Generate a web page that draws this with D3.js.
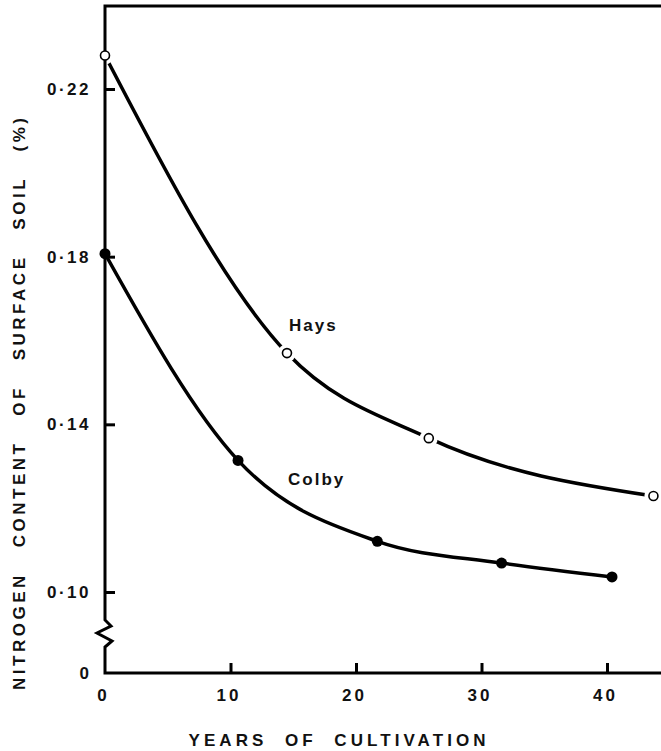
<!DOCTYPE html>
<html>
<head>
<meta charset="utf-8">
<script src="https://cdn.jsdelivr.net/npm/d3@7"></script>
<style>
  body { margin: 0; background: #fff; }
  svg { display: block; }
  text { font-family: "Liberation Sans", Arial, sans-serif; font-weight: bold; fill: #111; }
  .title { white-space: pre; }
</style>
</head>
<body>
<svg></svg>
<script>
// data
const haysYears = [0, 14.5, 25.8, 43.7];
const haysN = [0.228, 0.157, 0.1367, 0.1229];
const colbyYears = [0, 10.6, 21.7, 31.6, 40.4];
const colbyN = [0.1807, 0.1314, 0.1121, 0.1069, 0.1036];
const xTicks = [0, 10, 20, 30, 40];
const yTicks = [0.10, 0.14, 0.18, 0.22];

const width = 661;
const height = 751;

const svg = d3.select("svg")
  .attr("width", width)
  .attr("height", height);

// scales
const x = d3.scaleLinear().domain([0, 40]).range([105, 607]);
const y = d3.scaleLinear().domain([0.10, 0.22]).range([592, 89]);

const plotLeft = x(0);
const plotRight = width;
const plotTop = 6;
const plotBottom = 673;

const haysPts = haysYears.map((d, i) => [d, haysN[i]]);
const colbyPts = colbyYears.map((d, i) => [d, colbyN[i]]);

// curves
const line = d3.line()
  .x(d => x(d[0]))
  .y(d => y(d[1]))
  .curve(d3.curveMonotoneX);

svg.append("path")
  .datum(haysPts)
  .attr("d", line)
  .attr("fill", "none")
  .attr("stroke", "#000")
  .attr("stroke-width", 3.5);

svg.append("path")
  .datum(colbyPts)
  .attr("d", line)
  .attr("fill", "none")
  .attr("stroke", "#000")
  .attr("stroke-width", 3.5);

// white gap round the open circles
svg.selectAll(".halo")
  .data(haysPts)
  .enter()
  .append("circle")
  .attr("class", "halo")
  .attr("cx", d => x(d[0]))
  .attr("cy", d => y(d[1]))
  .attr("r", 9)
  .attr("fill", "#fff");

// frame with axis break
const zz = 620;
svg.append("path")
  .attr("d", `M${plotRight},${plotTop} L${plotLeft},${plotTop} L${plotLeft},${zz} L${plotLeft + 6},${zz + 6} L${plotLeft - 8},${zz + 13} L${plotLeft + 7},${zz + 21} L${plotLeft},${zz + 27} L${plotLeft},${plotBottom} L${plotRight},${plotBottom}`)
  .attr("fill", "none")
  .attr("stroke", "#000")
  .attr("stroke-width", 3)
  .attr("stroke-linejoin", "miter");

// y axis ticks
const yAxis = d3.axisLeft(y)
  .tickValues(yTicks)
  .tickSize(-10)
  .tickPadding(14)
  .tickFormat(d => d3.format(".2f")(d).replace(".", "·"));

const gy = svg.append("g")
  .attr("transform", `translate(${plotLeft},0)`)
  .call(yAxis);
gy.select(".domain").remove();
gy.selectAll("line").attr("stroke", "#000").attr("stroke-width", 3);
gy.selectAll("text")
  .style("font-size", "17px")
  .style("letter-spacing", "2.5px")
  .attr("fill", "#111");

// "0" at the broken origin
svg.append("text")
  .attr("x", plotLeft - 16)
  .attr("y", plotBottom)
  .attr("dy", "0.35em")
  .attr("text-anchor", "end")
  .style("font-size", "17px")
  .text("0");

// x axis ticks
const xAxis = d3.axisBottom(x)
  .tickValues(xTicks)
  .tickSize(-10)
  .tickPadding(16)
  .tickFormat(d3.format("d"));

const gx = svg.append("g")
  .attr("transform", `translate(0,${plotBottom})`)
  .call(xAxis);
gx.select(".domain").remove();
gx.selectAll("line")
  .attr("stroke", "#000")
  .attr("stroke-width", 3)
  .attr("display", d => d === 0 ? "none" : null);
gx.selectAll("text")
  .style("font-size", "17px")
  .style("letter-spacing", "3px")
  .attr("dx", "-2")
  .attr("fill", "#111");

// markers
svg.selectAll(".hays")
  .data(haysPts)
  .enter()
  .append("circle")
  .attr("class", "hays")
  .attr("cx", d => x(d[0]))
  .attr("cy", d => y(d[1]))
  .attr("r", 4.5)
  .attr("fill", "#fff")
  .attr("stroke", "#000")
  .attr("stroke-width", 1.6);

svg.selectAll(".colby")
  .data(colbyPts)
  .enter()
  .append("circle")
  .attr("class", "colby")
  .attr("cx", d => x(d[0]))
  .attr("cy", d => y(d[1]))
  .attr("r", 5.5)
  .attr("fill", "#000");

// series labels
svg.append("text")
  .attr("x", 289)
  .attr("y", 325)
  .attr("dy", "0.35em")
  .style("font-size", "17px")
  .style("letter-spacing", "2px")
  .text("Hays");

svg.append("text")
  .attr("x", 288)
  .attr("y", 479)
  .attr("dy", "0.35em")
  .style("font-size", "17px")
  .style("letter-spacing", "2px")
  .text("Colby");

// axis titles
svg.append("text")
  .attr("class", "title")
  .attr("x", 337)
  .attr("y", 740)
  .attr("dy", "0.35em")
  .attr("text-anchor", "middle")
  .attr("textLength", 297)
  .attr("lengthAdjust", "spacing")
  .style("font-size", "17px")
  .text("YEARS  OF  CULTIVATION");

svg.append("text")
  .attr("class", "title")
  .attr("transform", "translate(19,404) rotate(-90)")
  .attr("dy", "0.35em")
  .attr("text-anchor", "middle")
  .attr("textLength", 572)
  .attr("lengthAdjust", "spacing")
  .style("font-size", "17px")
  .text("NITROGEN   CONTENT   OF   SURFACE   SOIL   (%)");
</script>
</body>
</html>
